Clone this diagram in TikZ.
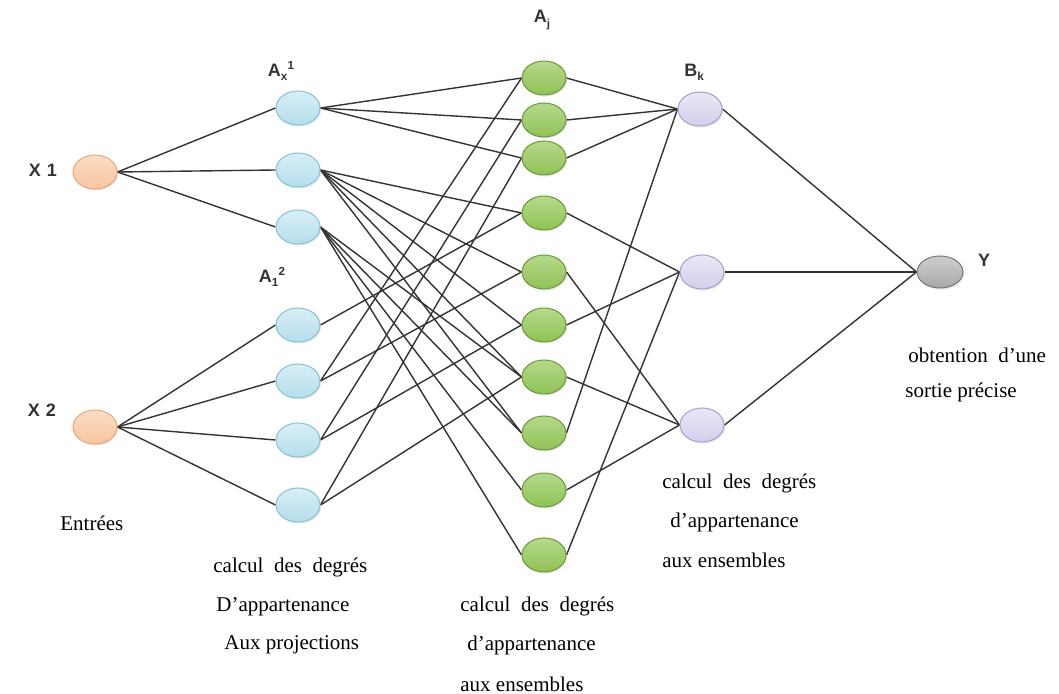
\documentclass[tikz,border=0pt]{standalone}
\usepackage{fontspec}
\setmainfont{Liberation Serif}
\newfontfamily\labelfont{Liberation Sans}
\usetikzlibrary{shapes.geometric,shadows,backgrounds}
\definecolor{inO}{HTML}{F8C6A0}\definecolor{inOd}{HTML}{E9A67A}
\definecolor{prB}{HTML}{B9E1EE}\definecolor{prBd}{HTML}{86C2D6}
\definecolor{ruG}{HTML}{96C95A}\definecolor{ruGd}{HTML}{6A9A34}
\definecolor{nmP}{HTML}{DAD3EE}\definecolor{nmPd}{HTML}{A89FCB}
\definecolor{otK}{HTML}{B4B4B4}\definecolor{otKd}{HTML}{767676}
\definecolor{wire}{HTML}{333333}
\newcommand{\lo}[1]{\raisebox{-0.45ex}{\scalebox{0.65}{#1}}}
\newcommand{\hi}[1]{\raisebox{0.75ex}{\scalebox{0.65}{#1}}}
\begin{document}
\begin{tikzpicture}[x=0.5pt,y=-0.5pt,
  neuron/.style={ellipse, minimum width=22pt, minimum height=17pt, inner sep=0pt,
    line width=0.5pt, drop shadow={opacity=0.18, shadow xshift=0.6pt, shadow yshift=-0.8pt}},
  inp/.style={neuron, draw=inOd, top color=inO!60!white, bottom color=inO},
  proj/.style={neuron, draw=prBd, top color=prB!55!white, bottom color=prB!90!prBd},
  rule/.style={neuron, draw=ruGd, top color=ruG!70!white, bottom color=ruG!85!ruGd},
  norm/.style={neuron, draw=nmPd, top color=nmP!55!white, bottom color=nmP!90!nmPd},
  outn/.style={neuron, draw=otKd, top color=otK!65!white, bottom color=otK!80!otKd},
  conn/.style={draw=wire, line width=0.7pt},
  tag/.style={font=\labelfont\bfseries\fontsize{9}{10}\selectfont, text=black!80, inner sep=0pt},
  note/.style={font=\fontsize{10.5}{12}\selectfont, inner sep=0pt, anchor=west}
]
\useasboundingbox (0,0) rectangle (1059,694);

% inputs
\node[inp] (X1) at (95,172) {};
\node[inp] (X2) at (95,427) {};
% projection membership nodes
\node[proj] (b1) at (298,108) {};
\node[proj] (b2) at (298,170) {};
\node[proj] (b3) at (298,227) {};
\node[proj] (b4) at (298,325) {};
\node[proj] (b5) at (298,381) {};
\node[proj] (b6) at (298,440) {};
\node[proj] (b7) at (298,505) {};
% set membership nodes
\foreach \i/\yy in {1/78,2/120,3/158,4/213,5/272,6/325,7/377,8/433,9/490,10/555}
  \node[rule] (g\i) at (544,\yy) {};
% aggregation nodes
\node[norm] (p1) at (700,109) {};
\node[norm] (p2) at (702,272) {};
\node[norm] (p3) at (702,425) {};
% output
\node[outn, minimum width=23pt, minimum height=16pt] (Y) at (940,272) {};

% connections, drawn behind the nodes
\begin{pgfonlayer}{background}
\foreach \t in {b1,b2,b3} \draw[conn] (X1.east) -- (\t.west);
\foreach \t in {b4,b5,b6,b7} \draw[conn] (X2.east) -- (\t.west);
\foreach \t in {g1,g2,g3} \draw[conn] (b1.east) -- (\t.west);
\foreach \t in {g4,g5,g6,g7,g8} \draw[conn] (b2.east) -- (\t.west);
\foreach \t in {g7,g8,g9,g10} \draw[conn] (b3.east) -- (\t.west);
\draw[conn] (b4.east) -- (g4.west);
\foreach \t in {g1,g5} \draw[conn] (b5.east) -- (\t.west);
\foreach \t in {g2,g6} \draw[conn] (b6.east) -- (\t.west);
\foreach \t in {g3,g7} \draw[conn] (b7.east) -- (\t.west);
\foreach \s in {g1,g2,g3,g8} \draw[conn] (\s.east) -- (p1.west);
\foreach \s in {g4,g6,g10} \draw[conn] (\s.east) -- (p2.west);
\foreach \s in {g5,g7,g9} \draw[conn] (\s.east) -- (p3.west);
\foreach \s in {p1,p2,p3} \draw[conn] (\s.east) -- (Y.west);
\end{pgfonlayer}

% layer tags
\node[tag] (tX1) at (43,170) {X\hspace{3pt}1};
\node[tag] (tX2) at (42,410) {X\hspace{3pt}2};
\node[tag] (tA1) at (281,71) {A\lo{x}\hi{1}};
\node[tag] (tA2) at (272,277) {A\lo{1}\hi{2}};
\node[tag] (tAj) at (542,20) {A\lo{j}};
\node[tag] (tBk) at (694,72) {B\lo{k}};
\node[tag] (tY) at (984,260) {Y};

% descriptions
\node[note] (e1) at (60,523) {Entrées};
\node[note] (c1) at (213,567) {calcul\ \ des\ \ degrés};
\node[note] (c2) at (216,607) {D’appartenance};
\node[note] (c3) at (224,645) {Aux projections};
\node[note] (d1) at (460,606) {calcul\ \ des\ \ degrés};
\node[note] (d2) at (467,645) {d’appartenance};
\node[note] (d3) at (460,684) {aux ensembles};
\node[note] (f1) at (662,483) {calcul\ \ des\ \ degrés};
\node[note] (f2) at (670,522) {d’appartenance};
\node[note] (f3) at (662,560) {aux ensembles};
\node[note] (o1) at (908,355) {obtention\ \ d’une};
\node[note] (o2) at (905,392) {sortie précise};
\end{tikzpicture}
\end{document}
